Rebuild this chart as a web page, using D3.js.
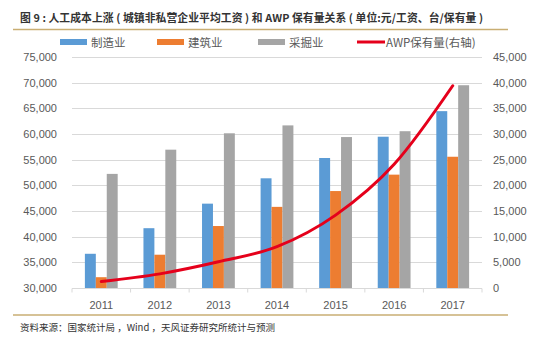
<!DOCTYPE html>
<html lang="zh">
<head>
  <meta charset="UTF-8" />
  <title>人工成本与AWP保有量</title>
  <style>
    body { margin: 0; background: #fff; }
    text { font-family: "Noto Sans CJK SC", "Liberation Sans", sans-serif; }
    .tick text { fill: #595959; font-size: 11px; font-family: "Liberation Sans", "Noto Sans CJK SC", sans-serif; }
  </style>
  <script src="https://d3js.org/d3.v7.min.js"></script>
</head>
<body>
  <svg width="550" height="340"></svg>
  <script>
    // data
    const years = ['2011', '2012', '2013', '2014', '2015', '2016', '2017'];
    const seriesNames = ['制造业', '建筑业', '采掘业'];
    const manufacturing = [36665, 41650, 46431, 51369, 55324, 59470, 64452];
    const construction = [32103, 36483, 42072, 45804, 48886, 52082, 55568];
    const mining = [52230, 56946, 60138, 61677, 59404, 60544, 69500];
    const awp = [1250, 2750, 5100, 8050, 14200, 24100, 39400];
    const leftTicks = [30000, 35000, 40000, 45000, 50000, 55000, 60000, 65000, 70000, 75000];
    const rightTicks = [0, 5000, 10000, 15000, 20000, 25000, 30000, 35000, 40000, 45000];

    const colors = ['#5B9BD5', '#ED7D31', '#A5A5A5'];
    const lineColor = '#E5001B';

    const svg = d3.select('svg');
    const plotLeft = 72, plotRight = 482, plotTop = 57, plotBottom = 288;

    const x = d3.scaleBand().domain(years).range([plotLeft, plotRight])
      .paddingInner(0.44).paddingOuter(0.22);
    const x1 = d3.scaleBand().domain(seriesNames).range([0, x.bandwidth()]);
    const xStep = x.step();
    const y = d3.scaleLinear().domain([30000, 75000]).range([plotBottom, plotTop]);
    const y2 = d3.scaleLinear().domain([0, 45000]).range([plotBottom, plotTop]);

    // title
    svg.append('text')
      .attr('x', 20).attr('y', 22)
      .attr('font-size', 10.8).attr('font-weight', 'bold').attr('fill', '#333')
      .attr('textLength', 463).attr('lengthAdjust', 'spacing')
      .text('图 9 : 人工成本上涨 ( 城镇非私营企业平均工资 ) 和 AWP 保有量关系 ( 单位:元/工资、台/保有量 )');

    svg.append('line').attr('x1', 13).attr('x2', 508).attr('y1', 29.5).attr('y2', 29.5)
      .attr('stroke', '#C9AE73').attr('stroke-width', 1.5);

    // legend
    const legendX = [60, 157, 258];
    seriesNames.forEach((name, i) => {
      svg.append('rect').attr('x', legendX[i]).attr('y', 39).attr('width', 27).attr('height', 6)
        .attr('fill', colors[i]);
      svg.append('text').attr('x', legendX[i] + 31).attr('y', 46.5)
        .attr('font-size', 11.5).attr('fill', '#595959').text(name);
    });
    svg.append('line').attr('x1', 357).attr('x2', 385).attr('y1', 42).attr('y2', 42)
      .attr('stroke', lineColor).attr('stroke-width', 3);
    svg.append('text').attr('x', 386).attr('y', 46.5)
      .attr('font-size', 11.5).attr('fill', '#595959').text('AWP保有量(右轴)');

    // gridlines
    svg.append('g').selectAll('line').data(leftTicks.slice(1)).join('line')
      .attr('x1', plotLeft).attr('x2', plotRight)
      .attr('y1', d => Math.round(y(d)) + 0.5).attr('y2', d => Math.round(y(d)) + 0.5)
      .attr('stroke', '#D9D9D9');

    // left axis
    const fmt = d3.format(',');
    svg.append('g').attr('transform', `translate(${plotLeft - 12},0)`)
      .call(d3.axisLeft(y).tickValues(leftTicks).tickFormat(fmt).tickSize(0).tickPadding(3))
      .call(g => g.select('.domain').remove());

    // right axis
    svg.append('g').attr('transform', `translate(${plotRight + 8},0)`)
      .call(d3.axisRight(y2).tickValues(rightTicks).tickFormat(fmt).tickSize(0).tickPadding(3))
      .call(g => g.select('.domain').remove());

    // bars
    const series = [manufacturing, construction, mining];
    const groups = svg.append('g').selectAll('g').data(years).join('g')
      .attr('transform', d => `translate(${x(d)},0)`);
    groups.selectAll('rect')
      .data((d, i) => seriesNames.map((s, j) => ({ s, v: series[j][i], c: colors[j] })))
      .join('rect')
      .attr('x', d => x1(d.s))
      .attr('width', x1.bandwidth())
      .attr('y', d => y(d.v))
      .attr('height', d => plotBottom - y(d.v))
      .attr('fill', d => d.c);

    // x axis
    const xAxis = svg.append('g').attr('transform', `translate(0,${plotBottom + 0.5})`);
    xAxis.append('line').attr('x1', plotLeft).attr('x2', plotRight).attr('stroke', '#D9D9D9');
    xAxis.selectAll('.sep').data(d3.range(years.length + 1)).join('line')
      .attr('class', 'sep')
      .attr('x1', i => plotLeft + i * xStep).attr('x2', i => plotLeft + i * xStep)
      .attr('y1', 0).attr('y2', 4).attr('stroke', '#D9D9D9');
    xAxis.selectAll('text.lbl').data(years).join('text')
      .attr('class', 'lbl')
      .attr('x', d => x(d) + x.bandwidth() / 2).attr('y', 20)
      .attr('text-anchor', 'middle')
      .attr('font-size', 11).attr('fill', '#595959')
      .style('font-family', '"Liberation Sans", sans-serif')
      .text(d => d);

    // AWP line
    const line = d3.line()
      .x((d, i) => x(years[i]) + x.bandwidth() / 2)
      .y(d => y2(d))
      .curve(d3.curveMonotoneX);
    svg.append('path').datum(awp)
      .attr('d', line)
      .attr('fill', 'none')
      .attr('stroke', lineColor)
      .attr('stroke-width', 3)
      .attr('stroke-linecap', 'round');

    // bottom rule and source
    svg.append('line').attr('x1', 13).attr('x2', 508).attr('y1', 315).attr('y2', 315)
      .attr('stroke', '#C9AE73').attr('stroke-width', 1.5);
    svg.append('text').attr('x', 20).attr('y', 331)
      .attr('font-size', 9.5).attr('fill', '#333')
      .text('资料来源：国家统计局 ，Wind ，天风证券研究所统计与预测');
  </script>
</body>
</html>
